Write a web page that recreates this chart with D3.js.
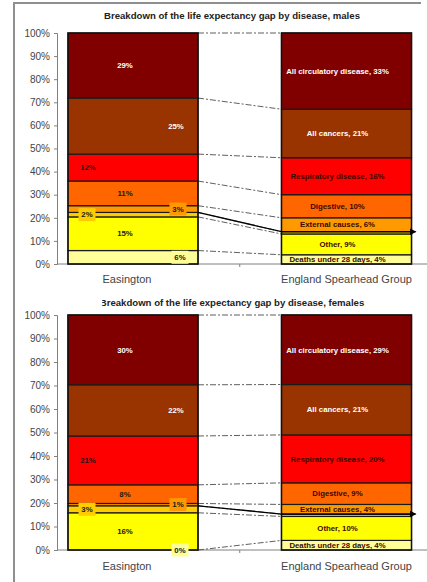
<!DOCTYPE html>
<html>
<head>
<meta charset="utf-8">
<script src="https://cdn.jsdelivr.net/npm/d3@7/dist/d3.min.js"></script>
<style>
  html, body { margin: 0; padding: 0; background: #fff; }
  svg { display: block; font-family: "Liberation Sans", Arial, sans-serif; }
</style>
</head>
<body>
<svg id="chart" width="427" height="582"></svg>
<script>
// ---- data -------------------------------------------------------------
const categories = ["Easington", "England Spearhead Group"];

// stacked from the bottom of each bar upwards
const causes = [
  "Deaths under 28 days",
  "Other",
  "Infections",
  "External causes",
  "Digestive",
  "Respiratory disease",
  "All cancers",
  "All circulatory disease"
];

const causeColors = ["#FFFF99", "#FFFF00", "#FFCC00", "#FF9900", "#FF6600", "#FF0000", "#993300", "#800000"];

// share of the life expectancy gap (%), same order as causes
const malesEasington   = [6, 15, 2, 3, 11, 12, 25, 29];
const malesEngland     = [4, 9, 1, 6, 10, 16, 21, 33];
const femalesEasington = [0, 16, 3, 1, 8, 21, 22, 30];
const femalesEngland   = [4, 10, 1, 4, 9, 20, 21, 29];

const yTickLabels = ["0%", "10%", "20%", "30%", "40%", "50%", "60%", "70%", "80%", "90%", "100%"];

const titles = [
  "Breakdown of the life expectancy gap by disease, males",
  "Breakdown of the life expectancy gap by disease, females"
];

// ---- drawing ----------------------------------------------------------
const svg = d3.select("#chart");
const W = 427, H = 582;

const defs = svg.append("defs");
defs.append("marker")
  .attr("id", "arrowHead")
  .attr("markerUnits", "userSpaceOnUse")
  .attr("markerWidth", 8).attr("markerHeight", 8)
  .attr("refX", 6).attr("refY", 3.5)
  .attr("orient", "auto")
  .append("path").attr("d", "M0,0 L7,3.5 L0,7 Z").attr("fill", "#000");

// frame around the page
svg.append("path")
  .attr("d", `M14,${H} L14,3 L421,3`)
  .attr("fill", "none").attr("stroke", "#8f8f8f").attr("stroke-width", 2);

const x = d3.scaleBand()
  .domain(categories)
  .range([-15.5, 495])
  .paddingInner(0.391)
  .paddingOuter(0.391);
const bw = x.bandwidth();
const axisX = 57;

const colorOf = d3.scaleOrdinal().domain(causes).range(causeColors);

// where each Easington label sits across the bar, and whether it gets a filled box
const easingtonLabelStyle = {
  "Deaths under 28 days":    { dx: 47,  box: true,  color: "#1a1a1a" },
  "Other":                   { dx: -8,  box: false, color: "#1a1a1a" },
  "Infections":              { dx: -46, box: true,  color: "#1a1a1a" },
  "External causes":         { dx: 45,  box: true,  color: "#1a1a1a" },
  "Digestive":               { dx: -8,  box: false, color: "#1a1a1a" },
  "Respiratory disease":     { dx: -45, box: false, color: "#1a1a1a" },
  "All cancers":             { dx: 43,  box: false, color: "#ffffff" },
  "All circulatory disease": { dx: -8,  box: false, color: "#ffffff" }
};
const whiteOnEngland = new Set(["All cancers", "All circulatory disease"]);

function drawPanel(panel) {
  const g = svg.append("g");
  const y = d3.scaleLinear().domain([0, 1]).range([panel.bottom, panel.top]);

  const rows = categories.map((c, i) => {
    const row = { category: c };
    causes.forEach((k, j) => { row[k] = panel.series[i][j]; });
    return row;
  });
  const stacked = d3.stack().keys(causes).offset(d3.stackOffsetExpand)(rows);

  // title
  const title = g.append("text")
    .attr("x", 232).attr("y", panel.titleY)
    .attr("text-anchor", "middle")
    .attr("font-size", 9.6).attr("font-weight", "bold").attr("fill", "#222")
    .text(panel.title);
  if (panel.clipTitle) {
    const len = title.node().getComputedTextLength();
    const cid = "titleClip" + panel.titleY;
    defs.append("clipPath").attr("id", cid)
      .append("rect").attr("x", 232 - len / 2 + 2.5).attr("y", panel.titleY - 12)
      .attr("width", len).attr("height", 16);
    title.attr("clip-path", `url(#${cid})`);
  }

  // y axis
  const yAxis = d3.axisLeft(y)
    .tickValues(d3.range(0, 11).map(d => d / 10))
    .tickFormat((d, i) => yTickLabels[i])
    .tickSize(3).tickPadding(4);
  const ya = g.append("g").attr("transform", `translate(${axisX},0)`).call(yAxis);
  ya.select(".domain").attr("stroke", "#808080");
  ya.selectAll(".tick line").attr("stroke", "#808080");
  ya.selectAll(".tick text").attr("font-size", 10).attr("fill", "#444")
    .attr("font-family", "Liberation Sans, Arial, sans-serif");

  // category axis
  g.append("line")
    .attr("x1", axisX).attr("x2", W)
    .attr("y1", panel.bottom).attr("y2", panel.bottom)
    .attr("stroke", "#808080");
  const boundary = x(categories[1]) - x.step() * x.paddingInner() / 2;
  g.append("line")
    .attr("x1", boundary).attr("x2", boundary)
    .attr("y1", panel.bottom).attr("y2", panel.bottom + 3)
    .attr("stroke", "#808080");
  g.selectAll("text.cat").data(categories).join("text")
    .attr("class", "cat")
    .attr("x", (d, i) => x(d) + bw / 2 - (i === 0 ? 6 : 0))
    .attr("y", panel.catY)
    .attr("text-anchor", "middle")
    .attr("font-size", 11).attr("fill", "#444")
    .text(d => d);

  // series lines joining the top of each segment between the two bars
  const xFrom = x(categories[0]) + bw, xTo = x(categories[1]);
  g.selectAll("line.series").data(stacked).join("line")
    .attr("class", "series")
    .attr("x1", xFrom).attr("x2", xTo)
    .attr("y1", s => y(s[0][1])).attr("y2", s => y(s[1][1]))
    .attr("stroke", "#4d4d4d").attr("stroke-width", 0.9)
    .attr("stroke-dasharray", "6,2,2,2");

  // stacked segments
  const layer = g.selectAll("g.layer").data(stacked).join("g")
    .attr("class", "layer")
    .attr("fill", s => colorOf(s.key));
  layer.selectAll("rect").data(s => s).join("rect")
    .attr("x", d => x(d.data.category))
    .attr("width", bw)
    .attr("y", d => y(d[1]))
    .attr("height", d => Math.max(0, y(d[0]) - y(d[1])))
    .attr("stroke", "#1a1a1a").attr("stroke-width", 1.2);

  // bar outlines
  g.selectAll("rect.outline").data(categories).join("rect")
    .attr("class", "outline")
    .attr("x", d => x(d)).attr("width", bw)
    .attr("y", y(1)).attr("height", y(0) - y(1))
    .attr("fill", "none").attr("stroke", "#111").attr("stroke-width", 1.4);

  // arrow running from the Easington infections segment across the England bar
  const inf = stacked[causes.indexOf("Infections")];
  const ya0 = y(inf[0][1]), ya1 = y(inf[1][1]);
  g.append("path")
    .attr("d", `M${xFrom},${ya0} L${xTo},${ya1} L${xTo + bw + 4},${ya1}`)
    .attr("fill", "none").attr("stroke", "#000").attr("stroke-width", 1.3)
    .attr("marker-end", "url(#arrowHead)");

  // Easington value labels
  const eas = stacked.map(s => ({ key: s.key, seg: s[0] }));
  const eLabels = g.selectAll("g.elab").data(eas).join("g")
    .attr("class", "elab")
    .attr("transform", d => {
      const st = easingtonLabelStyle[d.key];
      const cx = x(categories[0]) + bw / 2 + st.dx;
      const cy = (y(d.seg[0]) + y(d.seg[1])) / 2;
      return `translate(${cx},${cy})`;
    });
  eLabels.filter(d => easingtonLabelStyle[d.key].box)
    .append("rect")
    .attr("x", -8.5).attr("y", -6.5).attr("width", 17).attr("height", 13)
    .attr("fill", d => colorOf(d.key));
  eLabels.append("text")
    .attr("text-anchor", "middle").attr("dy", "0.35em")
    .attr("font-size", 7.8).attr("font-weight", "bold")
    .attr("fill", d => easingtonLabelStyle[d.key].color)
    .text(d => Math.round(d.seg.data[d.key]) + "%");

  // England labels: cause name and value
  const eng = stacked.filter(s => s.key !== "Infections").map(s => ({ key: s.key, seg: s[1] }));
  g.selectAll("text.glab").data(eng).join("text")
    .attr("class", "glab")
    .attr("x", x(categories[1]) + bw / 2 - 9)
    .attr("y", d => (y(d.seg[0]) + y(d.seg[1])) / 2)
    .attr("dy", "0.35em")
    .attr("text-anchor", "middle")
    .attr("font-size", 7.8).attr("font-weight", "bold")
    .attr("fill", d => whiteOnEngland.has(d.key) ? "#ffffff" : "#3a0a00")
    .text(d => `${d.key}, ${d.seg.data[d.key]}%`);
}

drawPanel({
  title: titles[0], titleY: 19, top: 33, bottom: 264, catY: 283,
  series: [malesEasington, malesEngland], clipTitle: false
});
drawPanel({
  title: titles[1], titleY: 306, top: 315, bottom: 550, catY: 570,
  series: [femalesEasington, femalesEngland], clipTitle: true
});
</script>
</body>
</html>
